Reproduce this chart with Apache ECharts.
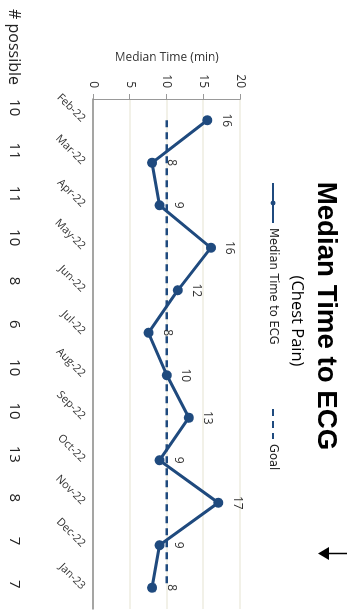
<!DOCTYPE html>
<html><head><meta charset="utf-8">
<script src="https://cdn.jsdelivr.net/npm/echarts@6/dist/echarts.min.js"></script>
<style>
html,body{margin:0;padding:0;width:351px;height:614px;overflow:hidden;background:#fff}
#chart{position:absolute;left:0;top:0;width:614px;height:351px;transform-origin:0 0;transform:translateX(351px) rotate(90deg);}
</style></head><body><div id="chart"></div>
<script>
const categories = ['Feb-22','Mar-22','Apr-22','May-22','Jun-22','Jul-22','Aug-22','Sep-22','Oct-22','Nov-22','Dec-22','Jan-23'];
const medianTime = [15.5, 8, 9, 16, 11.5, 7.5, 10, 13, 9, 17, 9, 8];
const goal = [10, 10, 10, 10, 10, 10, 10, 10, 10, 10, 10, 10];
const possible = [10, 11, 11, 10, 8, 6, 10, 10, 13, 8, 7, 7];
const valueTicks = {min: 0, max: 20, interval: 5};

const BLUE = '#1f4a7e';
const FONT = "'Open Sans', 'Liberation Sans', sans-serif";
const LEGEND_FONT = "'DejaVu Sans', sans-serif";
const chart = echarts.init(document.getElementById('chart'), null, {renderer: 'canvas'});
chart.setOption({
  animation: false,
  textStyle: {fontFamily: FONT},
  title: [
    {text: 'Median Time to ECG', left: 311, top: 6, textAlign: 'center',
     textStyle: {fontSize: 27.7, fontWeight: 'bold', color: '#000', fontFamily: "'Liberation Sans', Arial, sans-serif"}},
    {text: '(Chest Pain)', left: 316, top: 41, textAlign: 'center',
     textStyle: {fontSize: 16.5, fontWeight: 'normal', color: '#000', fontFamily: FONT}}
  ],
  legend: [
    {left: 182, top: 72, padding: 0, itemWidth: 40, itemHeight: 6,
     data: ['Median Time to ECG'],
     textStyle: {fontSize: 11.5, color: '#222', fontFamily: LEGEND_FONT, padding: [6, 0, 0, 0]}},
    {left: 408, top: 72, padding: 0, itemWidth: 30, itemHeight: 6,
     data: ['Goal'],
     itemStyle: {color: 'rgba(0,0,0,0)', borderWidth: 0, opacity: 0},
     textStyle: {fontSize: 11.5, color: '#222', fontFamily: LEGEND_FONT, padding: [6, 0, 0, 0]}}
  ],
  grid: [
    {left: 99, right: 5, top: 110.7, bottom: 93.3},
    {left: 86, right: 8, top: 110.7, bottom: 93.3}
  ],
  xAxis: [
    {type: 'category', gridIndex: 0, data: categories, boundaryGap: true,
     axisLine: {lineStyle: {color: '#8c8c8c', width: 1.5}},
     axisTick: {show: false},
     axisLabel: {rotate: 45, margin: 10, fontSize: 11, color: '#333', interval: 0}},
    {type: 'category', gridIndex: 1, data: possible.map(String), boundaryGap: true,
     axisLine: {show: false}, axisTick: {show: false},
     axisLabel: {margin: 72, fontSize: 15, color: '#222', interval: 0}}
  ],
  yAxis: [
    {type: 'value', gridIndex: 0, min: valueTicks.min, max: valueTicks.max, interval: valueTicks.interval,
     name: 'Median Time (min)', nameLocation: 'middle', nameGap: 34,
     nameTextStyle: {fontSize: 12, color: '#333'},
     axisLine: {show: true, lineStyle: {color: '#999'}},
     axisTick: {show: true, length: 5, lineStyle: {color: '#999'}},
     axisLabel: {margin: 11, fontSize: 12, color: '#333'},
     splitLine: {lineStyle: {color: '#EEECE1', width: 1.5}}},
    {type: 'value', gridIndex: 1, show: false}
  ],
  graphic: [
    {type: 'text', left: 9, top: 329, style: {text: '# possible', fill: '#222', font: "16px 'Open Sans', sans-serif"}},
    {type: 'line', shape: {x1: 553.5, y1: 4, x2: 553.5, y2: 24}, style: {stroke: '#000', lineWidth: 1.5}},
    {type: 'polygon', shape: {points: [[547, 22], [560, 22], [553.5, 33]]}, style: {fill: '#000'}}
  ],
  series: [
    {name: 'Goal', type: 'line', data: goal, symbol: 'none',
     lineStyle: {type: [7, 5], width: 2.5, color: BLUE}, itemStyle: {color: BLUE}, z: 2},
    {name: 'Median Time to ECG', type: 'line', data: medianTime, symbol: 'circle', symbolSize: 10,
     lineStyle: {width: 3, color: BLUE}, itemStyle: {color: BLUE}, z: 3,
     label: {show: true, position: 'top', distance: 8, fontSize: 12, color: '#333',
             formatter: p => String(Math.round(p.value))}}
  ]
});
</script></body></html>
